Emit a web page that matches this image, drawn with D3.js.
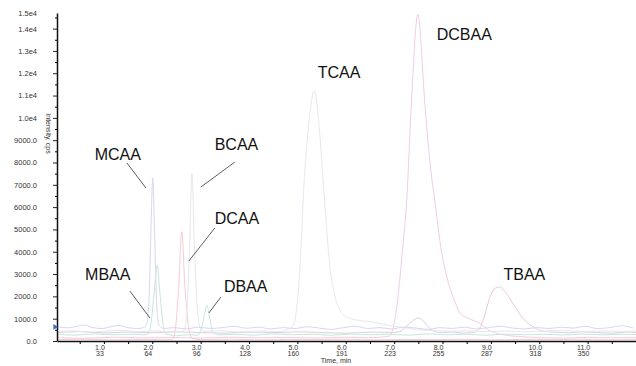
<!DOCTYPE html>
<html>
<head>
<meta charset="utf-8">
<script src="https://cdn.jsdelivr.net/npm/d3@7"></script>
<style>
  body { margin: 0; background: #fff; }
  svg { display: block; font-family: 'Liberation Sans', Arial, sans-serif; }
</style>
</head>
<body>
<div id="chart"></div>
<script>
// time ticks (min) and the matching cycle numbers
const timeTicks = [1, 2, 3, 4, 5, 6, 7, 8, 9, 10, 11];
const timeLabels = ['1.0', '2.0', '3.0', '4.0', '5.0', '6.0', '7.0', '8.0', '9.0', '10.0', '11.0'];
const cycleLabels = ['33', '64', '96', '128', '160', '191', '223', '255', '287', '318', '350'];
const timeMinor = [0.5, 1.5, 2.5, 3.5, 4.5, 5.5, 6.5, 7.5, 8.5, 9.5, 10.5, 11.5];

const yTicks = [0, 1000, 2000, 3000, 4000, 5000, 6000, 7000, 8000, 9000, 10000, 11000, 12000, 13000, 14000];
const yTickLabels = ['0.0', '1000.0', '2000.0', '3000.0', '4000.0', '5000.0', '6000.0', '7000.0',
  '8000.0', '9000.0', '1.0e4', '1.1e4', '1.2e4', '1.3e4', '1.4e4'];
const yMinor = [500, 1500, 2500, 3500, 4500, 5500, 6500, 7500, 8500, 9500, 10500, 11500, 12500, 13500, 14500];
const yTopLabel = '1.5e4';

// XIC traces, [time min, intensity cps]
const mcaaTrace = [[0.03,640],[0.25,590],[0.45,660],[0.6,720],[0.75,610],[0.95,560],[1.15,640],[1.3,700],
  [1.5,600],[1.7,560],[1.82,600],[1.88,700],[1.93,1800],[1.97,4800],[2.01,7300],[2.05,4600],[2.09,1700],
  [2.14,700],[2.25,560],[2.45,600],[2.7,540],[2.95,620],[3.2,560],[3.45,600],[3.7,660],[3.95,570],[4.2,620],
  [4.45,540],[4.7,600],[4.95,560],[5.2,640],[5.45,580],[5.7,520],[5.95,600],[6.2,660],[6.45,560],[6.7,600],
  [6.95,540],[7.2,620],[7.45,580],[7.7,520],[7.95,600],[8.2,560],[8.45,620],[8.7,540],[8.95,600],[9.2,660],
  [9.45,580],[9.7,540],[9.95,600],[10.2,560],[10.45,620],[10.7,580],[10.95,660],[11.2,560],[11.45,600],
  [11.7,680],[11.95,580]];

const brTrace = [[0.03,300],[0.4,260],[0.8,320],[1.2,280],[1.6,300],[1.85,280],[1.92,320],[1.98,900],
  [2.04,2200],[2.10,3400],[2.16,2100],[2.22,800],[2.28,320],[2.5,240],[2.75,280],[2.95,260],[3.02,600],
  [3.08,1200],[3.13,1600],[3.19,1000],[3.25,420],[3.35,280],[3.7,300],[4.1,260],[4.5,320],[4.9,280],
  [5.3,300],[5.7,260],[6.1,310],[6.5,280],[6.9,300],[7.3,260],[7.7,320],[8.1,280],[8.5,300],[8.9,260],
  [9.3,310],[9.7,280],[10.1,300],[10.5,270],[10.9,310],[11.3,280],[11.7,300],[12.0,290]];

const dcaaTrace = [[0.03,60],[0.6,80],[1.2,50],[1.8,70],[2.2,60],[2.42,80],[2.48,600],[2.54,2200],
  [2.61,4900],[2.67,2600],[2.74,800],[2.82,120],[3.0,60],[3.6,80],[4.2,50],[4.8,70],[5.4,60],[6.0,80],
  [6.6,50],[7.2,70],[7.8,60],[8.4,80],[9.0,50],[9.6,70],[10.2,60],[10.8,80],[11.4,50],[12.0,70]];

const tcaaTrace = [[0.03,420],[0.35,460],[0.7,400],[1.0,440],[1.35,480],[1.7,420],[2.05,450],[2.4,400],
  [2.6,430],[2.66,500],[2.72,1500],[2.77,4200],[2.82,7500],[2.87,4300],[2.93,1500],[3.0,560],[3.1,430],
  [3.4,460],[3.8,400],[4.2,450],[4.6,420],[4.84,560],[4.93,800],[5.0,1800],[5.07,4000],[5.13,6800],
  [5.23,9600],[5.35,11200],[5.45,9600],[5.55,6600],[5.66,3600],[5.8,1800],[5.97,1150],[6.2,950],
  [6.56,850],[6.9,700],[7.3,560],[7.7,480],[8.1,440],[8.5,460],[8.9,420],[9.3,450],[9.7,410],[10.1,440],
  [10.5,470],[10.9,420],[11.3,450],[11.7,430],[12.0,440]];

const dcbaaTrace = [[0.03,150],[0.6,120],[1.2,170],[1.8,140],[2.4,160],[3.0,130],[3.6,170],[4.2,140],
  [4.8,160],[5.4,130],[6.0,170],[6.5,150],[6.9,220],[6.98,600],[7.07,1800],[7.17,4000],[7.26,6300],
  [7.36,10800],[7.49,14650],[7.63,10800],[7.74,8000],[7.84,6300],[7.98,4000],[8.11,2700],[8.25,1800],
  [8.36,1250],[8.55,1000],[8.77,800],[8.95,500],[9.2,300],[9.6,200],[10.0,150],[10.5,130],[11.0,160],
  [11.5,140],[12.0,150]];

const tbaaTrace = [[0.03,380],[0.5,420],[1.0,360],[1.5,400],[2.0,370],[2.5,410],[3.0,380],[3.5,350],
  [4.0,400],[4.5,370],[5.0,410],[5.5,380],[6.0,350],[6.5,400],[7.0,380],[7.12,420],[7.25,650],[7.38,900],
  [7.49,1030],[7.6,900],[7.72,600],[7.84,420],[8.0,380],[8.2,400],[8.4,360],[8.6,380],[8.72,450],
  [8.85,1000],[8.97,1900],[9.08,2350],[9.18,2420],[9.3,2200],[9.45,1700],[9.6,1200],[9.74,850],[9.9,600],
  [10.05,450],[10.3,400],[10.6,370],[10.9,410],[11.2,380],[11.5,350],[11.8,400],[12.0,380]];

const traces = [tbaaTrace, dcbaaTrace, dcaaTrace, brTrace, tcaaTrace, mcaaTrace];
const traceColors = ['#e6cadd', '#f0cde6', '#f8cbd1', '#c4e8db', '#e6e8f0', '#d8d6f0'];

// peak names: text anchor and leader line ends, in data units
const peakNames = ['MCAA', 'BCAA', 'DCAA', 'MBAA', 'DBAA', 'TCAA', 'DCBAA', 'TBAA'];
const nameTime = [0.81, 3.29, 3.29, 0.61, 3.48, 5.42, 7.88, 9.26];
const nameValue = [8110, 8560, 5240, 2730, 2200, 11790, 13490, 2730];
const leaders = [
  [[1.475, 7980], [1.868, 6860]],
  [[3.707, 8020], [3.004, 6900]],
  [[3.293, 5065], [2.756, 3585]],
  [[1.537, 2240], [1.950, 1030]],
  [[3.417, 1970], [3.169, 1255]],
];

const svg = d3.select('#chart').append('svg').attr('width', 636).attr('height', 366);

const margin = { top: 13, right: 0, bottom: 25, left: 57 };
const width = 636 - margin.left - margin.right;
const height = 366 - margin.top - margin.bottom;

const x = d3.scaleLinear().domain([0.03, 12.0]).range([margin.left, margin.left + width]);
const y = d3.scaleLinear().domain([0, 14700]).range([margin.top + height, margin.top]);

const line = d3.line()
  .x((d) => x(d[0]))
  .y((d) => y(d[1]))
  .curve(d3.curveMonotoneX);

svg.append('g')
  .selectAll('path')
  .data(traces)
  .enter()
  .append('path')
  .attr('d', line)
  .attr('fill', 'none')
  .attr('stroke', (d, i) => traceColors[i])
  .attr('stroke-width', 1);

// y axis
const yAxis = svg.append('g')
  .attr('transform', `translate(${margin.left},0)`)
  .call(d3.axisLeft(y).tickValues(yTicks).tickSize(4).tickSizeOuter(0).tickPadding(16)
    .tickFormat((d, i) => yTickLabels[i]));
svg.append('g')
  .attr('transform', `translate(${margin.left},0)`)
  .call(d3.axisLeft(y).tickValues(yMinor).tickSize(2).tickFormat(''))
  .select('.domain').remove();
yAxis.select('.domain').attr('stroke', '#111').attr('stroke-width', 1.5);
yAxis.selectAll('.tick line').attr('stroke', '#222');
yAxis.selectAll('text').attr('font-size', '7.5px').attr('fill', '#333').attr('font-family', 'Liberation Sans, Arial');
yAxis.append('text')
  .attr('x', -20)
  .attr('y', y.range()[1] + 3)
  .attr('text-anchor', 'end')
  .attr('font-size', '7.5px')
  .attr('fill', '#333')
  .text(yTopLabel);

svg.append('text')
  .attr('transform', `translate(46,${y(9300)}) rotate(90)`)
  .attr('text-anchor', 'middle')
  .attr('font-size', '7px')
  .attr('fill', '#333')
  .text('Intensity, cps');

// baseline marker
svg.append('path')
  .attr('d', d3.symbol(d3.symbolTriangle, 14)())
  .attr('transform', `translate(${margin.left - 2},${y(630)}) rotate(90)`)
  .attr('fill', '#4a64c8');

// x axis
const xAxis = svg.append('g')
  .attr('transform', `translate(0,${margin.top + height})`)
  .call(d3.axisBottom(x).tickValues(timeTicks).tickSize(3).tickSizeOuter(0).tickFormat(''));
svg.append('g')
  .attr('transform', `translate(0,${margin.top + height})`)
  .call(d3.axisBottom(x).tickValues(timeMinor).tickSize(3).tickFormat(''))
  .select('.domain').remove();
xAxis.select('.domain').attr('stroke', '#111').attr('stroke-width', 1.5);

const xLab = svg.append('g').attr('font-size', '7px').attr('fill', '#333').attr('text-anchor', 'middle');
timeTicks.forEach((t, i) => {
  xLab.append('text').attr('x', x(t) - 4).attr('y', 349.5).text(timeLabels[i]);
  xLab.append('text').attr('x', x(t) - 4).attr('y', 355.5).text(cycleLabels[i]);
});
svg.append('text')
  .attr('x', 336)
  .attr('y', 363)
  .attr('text-anchor', 'middle')
  .attr('font-size', '7px')
  .attr('fill', '#333')
  .text('Time, min');

// peak names
svg.append('g')
  .selectAll('line')
  .data(leaders)
  .enter()
  .append('line')
  .attr('x1', (d) => x(d[0][0]))
  .attr('y1', (d) => y(d[0][1]))
  .attr('x2', (d) => x(d[1][0]))
  .attr('y2', (d) => y(d[1][1]))
  .attr('stroke', '#333')
  .attr('stroke-width', 0.8);

svg.append('g')
  .selectAll('text')
  .data(peakNames)
  .enter()
  .append('text')
  .attr('x', (d, i) => x(nameTime[i]))
  .attr('y', (d, i) => y(nameValue[i]))
  .attr('font-size', '16px')
  .attr('fill', '#111')
  .text((d) => d);
</script>
</body>
</html>
